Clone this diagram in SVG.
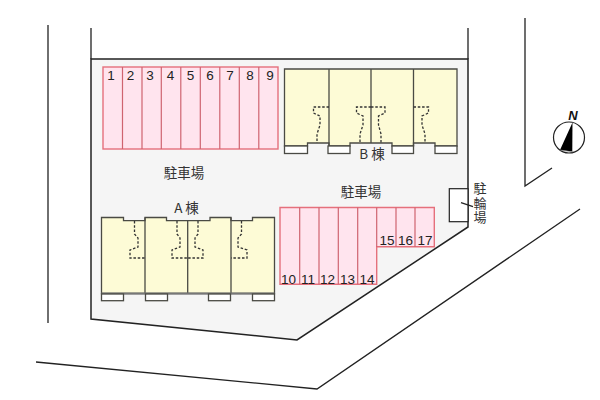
<svg xmlns="http://www.w3.org/2000/svg" width="600" height="400" viewBox="0 0 600 400">
<style>
.ln{fill:none;stroke:#222;stroke-width:1.3}
.site{fill:#f5f5f5;stroke:#222;stroke-width:1.5}
.p{fill:#ffe4ee;stroke:#e5707c;stroke-width:1.4}
.d{fill:none;stroke:#cf6470;stroke-width:1.2}
.b{fill:#fdfbd6;stroke:#4a4a44;stroke-width:1.3}
.w{fill:#fff;stroke:#4a4a44;stroke-width:1.3}
.wall{fill:none;stroke:#4a4a44;stroke-width:1.3}
.da{fill:none;stroke:#333;stroke-width:1.3;stroke-dasharray:2.5 1.8}
.n{font:13.500px "Liberation Sans",Arial,sans-serif;fill:#222;text-anchor:middle}
.t{font:13.500px "Noto Sans CJK JP","Liberation Sans",sans-serif;fill:#333;text-anchor:middle}
.v{font:13px "Noto Sans CJK JP","Liberation Sans",sans-serif;fill:#333;writing-mode:vertical-rl;letter-spacing:1.300px}
</style>
<g id="surroundings">
<path class="ln" d="M48 25V323"/>
<path class="ln" d="M91 28V59M468 28V59"/>
<path class="ln" d="M36 362L317 389L580 209"/>
<path class="ln" d="M525 18V186L552 168"/>
</g>
<g id="site"><path class="site" d="M91 59H468V227L297 340L91 319Z"/></g>
<g id="parking-north">
<rect class="p" x="103" y="67" width="175" height="82"/>
<path class="d" d="M122.500 67V149M142 67V149M161.300 67V149M180.800 67V149M200.300 67V149M219.800 67V149M239.300 67V149M258.800 67V149"/>
<g class="n"><text x="111" y="80">1</text><text x="130.500" y="80">2</text><text x="150" y="80">3</text><text x="170.500" y="80">4</text><text x="190.500" y="80">5</text><text x="210" y="80">6</text><text x="230" y="80">7</text><text x="250" y="80">8</text><text x="270" y="80">9</text></g>
</g>
<g id="building-b">
<path class="b" d="M284.500 69H457V146H435V143H413.500V146H392V143H350V146H329V143H307.500V146H284.500Z"/>
<path class="wall" d="M329 69V146M371 69V143M413.500 69V146"/>
<rect class="w" x="284.500" y="146" width="23" height="7.500"/><rect class="w" x="328" y="146" width="22" height="7.500"/><rect class="w" x="392" y="146" width="21.500" height="7.500"/><rect class="w" x="435" y="146" width="22" height="7.500"/>
<path class="da" d="M329 107H313.500V113L320 116V125L317 134V143"/>
<path class="da" d="M371 107H356.500V113L363 116V125L360 134V143"/>
<path class="da" d="M371 107H385V113L378.500 116V125L381 134V143"/>
<path class="da" d="M413.500 107H428.500V113L422 116V125L425 134V143"/>
<text class="t" x="372" y="159">B 棟</text>
</g>
<g id="building-a">
<path class="b" d="M101.500 217.500H123.500V220.700H145V217.500H166.500V220.700H210V217.500H231V220.700H252.500V217.500H274.500V293.500H101.500Z"/>
<path class="wall" d="M145 217.500V293.500M187.700 220.700V293.500M231 217.500V293.500"/>
<path d="M101.500 293.500H274.500" fill="none" stroke="#777" stroke-width="2"/>
<rect class="w" x="101.500" y="294" width="22" height="6.700"/><rect class="w" x="145.500" y="294" width="22" height="6.700"/><rect class="w" x="208.500" y="294" width="22" height="6.700"/><rect class="w" x="252.500" y="294" width="22" height="6.700"/>
<path class="da" d="M134.500 221V234L138 238V247L130 250V258H145"/>
<path class="da" d="M177 221V234L180 238V247L172 250V258H187.700"/>
<path class="da" d="M198 221V234L195 238V247L203 250V258H187.700"/>
<path class="da" d="M241.500 221V234L238 238V247L247 250V258H231"/>
<text class="t" x="186.500" y="212.500">A 棟</text>
</g>
<g id="parking-south">
<path class="p" d="M280 207.500H434.300V246.700H376.700V284.300H280Z"/>
<path class="d" d="M299.700 207.500V284.300M319 207.500V284.300M338.300 207.500V284.300M357.700 207.500V284.300M376.700 207.500V246.700M396 207.500V246.700M415 207.500V246.700"/>
<g class="n"><text x="288.500" y="283.500">10</text><text x="308" y="283.500">11</text><text x="327.500" y="283.500">12</text><text x="347.500" y="283.500">13</text><text x="367" y="283.500">14</text><text x="387" y="245">15</text><text x="405.500" y="245">16</text><text x="425" y="245">17</text></g>
</g>
<g id="labels">
<text class="t" x="184" y="178">駐車場</text>
<text class="t" x="361" y="197">駐車場</text>
</g>
<g id="bike-parking">
<rect x="449.300" y="188.700" width="18.700" height="33" fill="#fff" stroke="#222" stroke-width="1.200"/>
<path class="ln" d="M461 202.700L473 206.700"/>
<text class="v" x="480" y="182">駐輪場</text>
</g>
<g id="compass">
<circle cx="569" cy="137.500" r="15.500" fill="#fff" stroke="#222" stroke-width="1.200"/>
<path d="M572.500 122.500L560 150L572 151.500Z" fill="#000"/>
<path d="M572.500 122.500V152L560 150" fill="none" stroke="#888" stroke-width=".6"/>
<text x="573" y="120" font-family="Liberation Sans, sans-serif" font-size="13" font-weight="bold" font-style="italic" text-anchor="middle" fill="#111">N</text>
</g>
</svg>
